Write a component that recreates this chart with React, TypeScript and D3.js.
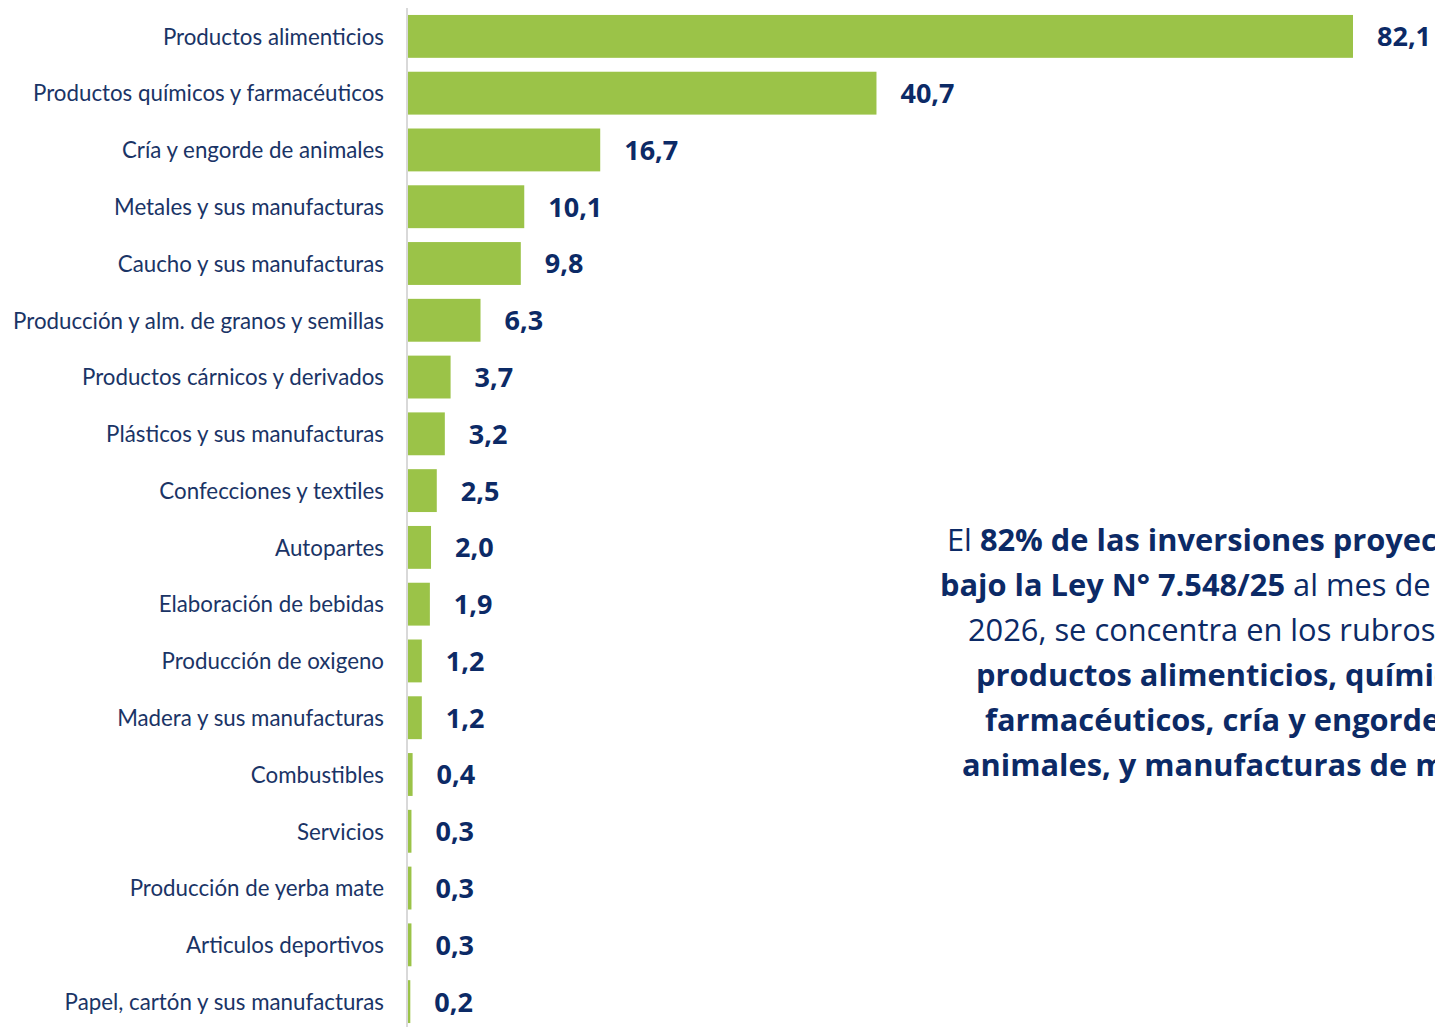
import React from "react";
import * as d3 from "d3";

const categories: string[] = [
  "Productos alimenticios",
  "Productos químicos y farmacéuticos",
  "Cría y engorde de animales",
  "Metales y sus manufacturas",
  "Caucho y sus manufacturas",
  "Producción y alm. de granos y semillas",
  "Productos cárnicos y derivados",
  "Plásticos y sus manufacturas",
  "Confecciones y textiles",
  "Autopartes",
  "Elaboración de bebidas",
  "Producción de oxigeno",
  "Madera y sus manufacturas",
  "Combustibles",
  "Servicios",
  "Producción de yerba mate",
  "Articulos deportivos",
  "Papel, cartón y sus manufacturas",
];

const values: number[] = [82.1, 40.7, 16.7, 10.1, 9.8, 6.3, 3.7, 3.2, 2.5, 2.0, 1.9, 1.2, 1.2, 0.4, 0.3, 0.3, 0.3, 0.2];

type Seg = { t: string; b?: boolean };
const noteLines: Seg[][] = [
  [{ t: "El " }, { t: "82% de las inversiones proyectadas", b: true }],
  [{ t: "bajo la Ley N° 7.548/25", b: true }, { t: " al mes de enero de" }],
  [{ t: "2026, se concentra en los rubros de" }],
  [{ t: "productos alimenticios, químicos y", b: true }],
  [{ t: "farmacéuticos, cría y engorde de", b: true }],
  [{ t: "animales, y manufacturas de metales.", b: true }],
];
const noteLineStarts: number[] = [947, 940, 968, 976, 985, 962];

const W = 1435;
const H = 1027;
const FONT = "Lato, 'Open Sans', sans-serif";
const FONT2 = "'Open Sans', Lato, sans-serif";
const GREEN = "#9bc348";
const NAVY = "#0c2a66";
const LABEL = "#1a3466";

export default function App() {
  const x = d3
    .scaleLinear()
    .domain([0, d3.max(values) as number])
    .range([408, 1353]);
  const y = d3
    .scaleBand<string>()
    .domain(categories)
    .range([8, 1030])
    .paddingInner(0.245)
    .paddingOuter(0.1225);
  const fmt = (v: number) => v.toFixed(1).replace(".", ",");

  return (
    <svg
      width={W}
      height={H}
      style={{ position: "absolute", left: 0, top: 0, background: "#fff" }}
      fontFamily={FONT}
    >
      <line x1={407} x2={407} y1={8} y2={H} stroke="#d9d9d9" strokeWidth={2} />
      {categories.map((c, i) => {
        const yy = y(c) as number;
        const cy = yy + y.bandwidth() / 2;
        return (
          <g key={c}>
            <rect x={x(0)} y={yy} width={x(values[i]) - x(0)} height={y.bandwidth()} fill={GREEN} />
            <text x={384} y={cy} dy="0.37em" textAnchor="end" fontSize={22.3} fill={LABEL}>
              {c}
            </text>
            <text
              x={x(values[i]) + 24}
              y={cy}
              dy="0.37em"
              fontSize={27}
              fontWeight={700}
              fill={NAVY}
              fontFamily={FONT2}
            >
              {fmt(values[i])}
            </text>
          </g>
        );
      })}
      {noteLines.map((segs, i) => (
        <text key={i} x={noteLineStarts[i]} y={551 + i * 45} fontSize={30.8} fill={NAVY} fontFamily={FONT2}>
          {segs.map((s, j) => (
            <tspan key={j} fontWeight={s.b ? 700 : 400}>
              {s.t}
            </tspan>
          ))}
        </text>
      ))}
    </svg>
  );
}
